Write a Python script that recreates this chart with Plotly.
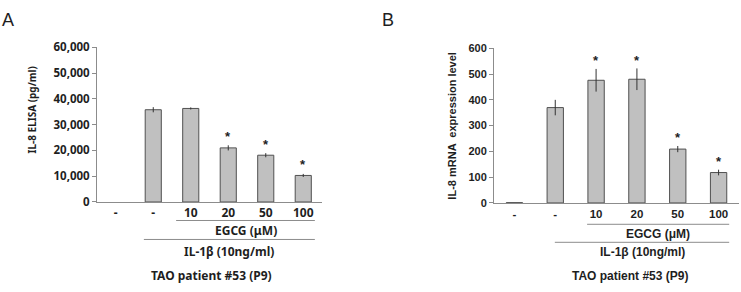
import plotly.graph_objects as go

# ---- data ----
tick_labels = ["-", "-", "10", "20", "50", "100"]
elisa_values = [0, 35800, 36300, 21000, 18150, 10300]
elisa_errors = [0, 1000, 400, 1000, 800, 600]
elisa_sig = [False, False, False, True, True, True]

mrna_values = [1, 370, 476, 480, 209, 118]
mrna_errors = [0, 30, 44, 42, 12, 11]
mrna_sig = [False, False, True, True, True, True]

x_idx = list(range(len(tick_labels)))

W, H = 741, 292
fig = go.Figure()

BAR_FILL = "#c0c0c0"
BAR_LINE = "#505050"
AX = "#8c8c8c"
TXT = "#1e1e1e"
FA = "Noto Sans, Open Sans, sans-serif"
FB = "Liberation Sans, Arial, sans-serif"


def f(fam, size=11, bold=True):
    return dict(family=fam, size=size, color=TXT, weight="bold" if bold else "normal")


fig.add_trace(go.Bar(
    x=x_idx, y=elisa_values, width=0.43,
    marker=dict(color=BAR_FILL, line=dict(color=BAR_LINE, width=[0 if v == 0 else 1 for v in elisa_values])),
    error_y=dict(type="data", array=elisa_errors, visible=True, color="#333333", thickness=1, width=0),
    xaxis="x", yaxis="y", showlegend=False, hoverinfo="skip"))

fig.add_trace(go.Bar(
    x=x_idx, y=mrna_values, width=0.40,
    marker=dict(color=BAR_FILL, line=dict(color=BAR_LINE, width=1)),
    error_y=dict(type="data", array=mrna_errors, visible=True, color="#333333", thickness=1, width=0),
    xaxis="x2", yaxis="y2", showlegend=False, hoverinfo="skip"))

ydom = [1 - 204.5 / H, 1 - 41.5 / H]
ydom2 = [1 - 205.5 / H, 1 - 42.5 / H]

common_x = dict(tickmode="array", tickvals=x_idx, ticktext=tick_labels, range=[-0.5, 5.5],
                showline=True, linecolor=AX, linewidth=1, ticks="", showgrid=False, zeroline=False,
                fixedrange=True)

fig.update_layout(
    width=W, height=H, margin=dict(l=0, r=0, t=0, b=0),
    paper_bgcolor="white", plot_bgcolor="white",
    xaxis=dict(domain=[97 / W, 322 / W], anchor="y", tickfont=f(FA, 12), **common_x),
    yaxis=dict(domain=ydom, anchor="x", range=[0, 60000], tickvals=[0, 10000, 20000, 30000, 40000, 50000, 60000],
               tickformat=",", showline=True, linecolor=AX, linewidth=1, ticks="outside", ticklen=4,
               tickcolor=AX, showgrid=False, zeroline=False, tickfont=f(FA, 11.5)),
    xaxis2=dict(domain=[494 / W, 739 / W], anchor="y2", tickfont=f(FB, 11.5), **common_x),
    yaxis2=dict(domain=ydom2, anchor="x2", range=[0, 600], tickvals=[0, 100, 200, 300, 400, 500, 600],
                showline=True, linecolor=AX, linewidth=1, ticks="outside", ticklen=4,
                tickcolor=AX, showgrid=False, zeroline=False, tickfont=f(FB, 11)),
)

ann = []
ann.append(dict(text="A", x=8 / W, y=1 - 13 / H, xref="paper", yref="paper", xanchor="center", yanchor="middle",
                showarrow=False, font=f(FB, 18, False)))
ann.append(dict(text="B", x=388 / W, y=1 - 13 / H, xref="paper", yref="paper", xanchor="center", yanchor="middle",
                showarrow=False, font=f(FB, 18, False)))
ann.append(dict(text="IL-8 ELISA (pg/ml)", x=32 / W, y=1 - 108 / H, xref="paper", yref="paper",
                textangle=-90, showarrow=False, xanchor="center", yanchor="middle", font=f(FA, 10)))
ann.append(dict(text="IL-8 mRNA  expression level", x=452 / W, y=1 - 124 / H, xref="paper", yref="paper",
                textangle=-90, showarrow=False, xanchor="center", yanchor="middle", font=f(FB, 11)))

for i, (v, e, s) in enumerate(zip(elisa_values, elisa_errors, elisa_sig)):
    if s:
        ann.append(dict(text="*", x=i, y=v + e, xref="x", yref="y", showarrow=False, yshift=9,
                        xanchor="center", yanchor="middle", font=f(FB, 13)))
for i, (v, e, s) in enumerate(zip(mrna_values, mrna_errors, mrna_sig)):
    if s:
        ann.append(dict(text="*", x=i, y=v + e, xref="x2", yref="y2", showarrow=False, yshift=8,
                        xanchor="center", yanchor="middle", font=f(FB, 13)))

shapes = []


def group(xref, fam, size, egcg_x, il_x, y_egcg_line, y_egcg_text, y_il_line, y_il_text, tao_x, y_tao):
    shapes.append(dict(type="line", xref=xref, yref="paper", x0=egcg_x[0], x1=egcg_x[1],
                       y0=1 - y_egcg_line / H, y1=1 - y_egcg_line / H, line=dict(color=AX, width=1)))
    shapes.append(dict(type="line", xref=xref, yref="paper", x0=il_x[0], x1=il_x[1],
                       y0=1 - y_il_line / H, y1=1 - y_il_line / H, line=dict(color=AX, width=1)))
    ann.append(dict(text="EGCG (μM)", x=(egcg_x[0] + egcg_x[1]) / 2, y=1 - y_egcg_text / H, xref=xref, yref="paper",
                    showarrow=False, xanchor="center", yanchor="middle", font=f(fam, size)))
    ann.append(dict(text="IL-1β (10ng/ml)", x=(il_x[0] + il_x[1]) / 2, y=1 - y_il_text / H, xref=xref, yref="paper",
                    showarrow=False, xanchor="center", yanchor="middle", font=f(fam, size)))
    ann.append(dict(text="TAO patient #53 (P9)", x=tao_x / W, y=1 - y_tao / H, xref="paper", yref="paper",
                    showarrow=False, xanchor="center", yanchor="middle", font=f(fam, size)))


group("x", FA, 12, (1.61, 5.31), (0.75, 5.31), 224, 235, 244, 257, 211, 282)
group("x2", FB, 12, (1.78, 5.26), (0.99, 5.26), 228, 238, 247, 257, 630, 283)

fig.update_layout(annotations=ann, shapes=shapes)
fig.write_html("out.html", config={"displayModeBar": False, "staticPlot": True},
               post_script="document.body.style.margin='0px';")
